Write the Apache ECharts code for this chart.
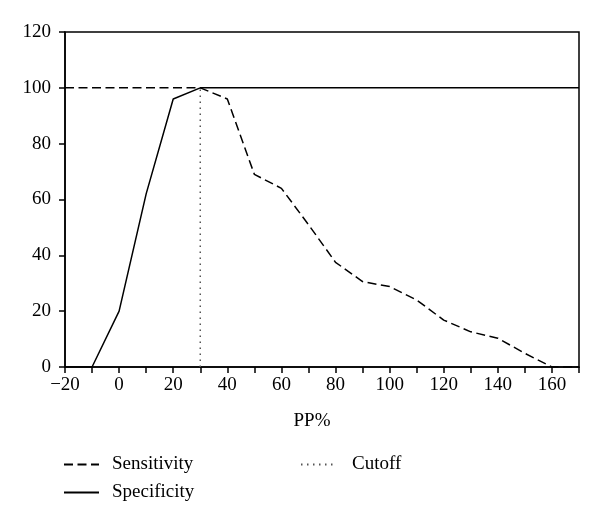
<!DOCTYPE html>
<html>
<head>
<meta charset="utf-8">
<script src="https://cdn.jsdelivr.net/npm/echarts@6/dist/echarts.min.js"></script>
<style>html,body{margin:0;padding:0;background:#fff}#c{width:600px;height:525px}</style>
</head>
<body>
<div id="c"></div>
<script>
const ppValues = [-20, -10, 0, 10, 20, 30, 40, 50, 60, 70, 80, 90, 100, 110, 120, 130, 140, 150, 160, 170];
const sensitivity = [100, 100, 100, 100, 100, 100, 96, 69, 64, 51, 37.5, 30.6, 28.8, 24, 16.8, 12.6, 10.3, 4.9, 0, 0];
const specificity = [0, 0, 20, 62, 96, 100, 100, 100, 100, 100, 100, 100, 100, 100, 100, 100, 100, 100, 100, 100];
const cutoffX = [30, 30];
const cutoffY = [0, 100];
const xTicks = [-20, 0, 20, 40, 60, 80, 100, 120, 140, 160];
const yTicks = [0, 20, 40, 60, 80, 100, 120];

const FONT = '"Liberation Serif", "DejaVu Serif", serif';
const chart = echarts.init(document.getElementById('c'));
const pairs = (xs, ys) => xs.map((x, i) => [x, ys[i]]);

chart.setOption({
  animation: false,
  backgroundColor: '#fff',
  grid: { left: 65, right: 21, top: 32, bottom: 158, show: true, borderColor: '#000', borderWidth: 1.5 },
  xAxis: {
    type: 'value', min: -20, max: 170, interval: 10,
    name: 'PP%', nameLocation: 'middle', nameGap: 45,
    nameTextStyle: { fontFamily: FONT, fontSize: 19, color: '#000', padding: [0, 20, 0, 0] },
    axisLine: { onZero: false, lineStyle: { color: '#000', width: 1.5 } },
    axisTick: { show: true, length: 6, lineStyle: { color: '#000', width: 1.5 } },
    axisLabel: {
      fontFamily: FONT, fontSize: 19, color: '#000', margin: 9,
      formatter: v => xTicks.includes(v) ? (v < 0 ? '\u2212' + Math.abs(v) : String(v)) : ''
    },
    splitLine: { show: false }
  },
  yAxis: {
    type: 'value', min: 0, max: 120, interval: 20,
    axisLine: { show: true, onZero: false, lineStyle: { color: '#000', width: 1.5 } },
    axisTick: { show: true, length: 6, lineStyle: { color: '#000', width: 1.5 } },
    axisLabel: {
      fontFamily: FONT, fontSize: 19, color: '#000', margin: 14,
      formatter: v => yTicks.includes(v) ? String(v) : ''
    },
    splitLine: { show: false }
  },
  legend: [
    {
      data: ['Sensitivity', 'Specificity'], orient: 'vertical', left: 63, top: 455, padding: 0,
      itemWidth: 35, itemHeight: 14, itemGap: 9,
      itemStyle: { color: 'transparent', borderWidth: 0 },
      textStyle: { fontFamily: FONT, fontSize: 19, color: '#000', padding: [0, 0, 0, 8] }
    },
    {
      data: ['Cutoff'], orient: 'vertical', left: 300, top: 455, padding: 0,
      itemWidth: 35, itemHeight: 14,
      itemStyle: { color: 'transparent', borderWidth: 0 },
      textStyle: { fontFamily: FONT, fontSize: 19, color: '#000', padding: [0, 0, 0, 11] }
    }
  ],
  series: [
    {
      name: 'Sensitivity', type: 'line', data: pairs(ppValues, sensitivity),
      symbol: 'none', showSymbol: false,
      lineStyle: { color: '#000', width: 1.5, type: [9, 4.5] },
      itemStyle: { color: '#000' }
    },
    {
      name: 'Specificity', type: 'line', data: pairs(ppValues, specificity),
      symbol: 'none', showSymbol: false,
      lineStyle: { color: '#000', width: 1.5, type: 'solid' },
      itemStyle: { color: '#000' }
    },
    {
      name: 'Cutoff', type: 'line', data: pairs(cutoffX, cutoffY),
      symbol: 'none', showSymbol: false,
      lineStyle: { color: '#555', width: 1.5, type: [1.5, 4.5] },
      itemStyle: { color: '#555' }
    }
  ]
});
</script>
</body>
</html>
